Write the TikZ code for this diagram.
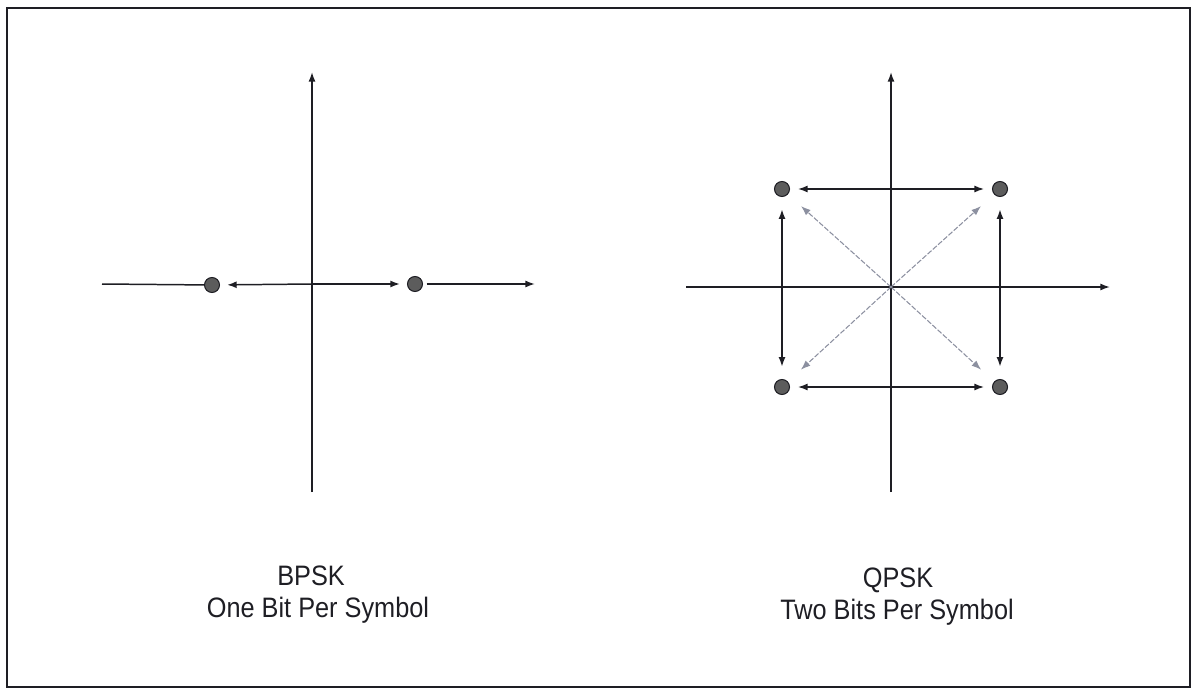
\documentclass[tikz,border=0pt]{standalone}
\usepackage{fontspec}
\usepackage{xcolor}
\usepackage{tikz}
\usetikzlibrary{arrows.meta}
\newfontfamily\capfont[FakeStretch=0.9]{Liberation Sans}
\definecolor{PSKInk}{HTML}{1E1E24}
\definecolor{PSKDot}{HTML}{5C5C5C}
\definecolor{PSKDiag}{HTML}{8C90A0}
\tikzset{
  axis/.style={PSKInk,line width=0.85pt},
  diag/.style={PSKDiag,line width=0.6pt,dash pattern=on 3pt off 1pt},
  sym/.style={circle,draw=PSKInk,fill=PSKDot,line width=0.6pt,minimum size=0.3cm,inner sep=0pt},
  onearrow/.style={-{Latex[length=5.5pt,width=4pt]}},
  twoarrow/.style={{Latex[length=5.5pt,width=4pt]}-{Latex[length=5.5pt,width=4pt]}},
  psklabel/.style={PSKInk,anchor=base,inner sep=0pt,font=\fontsize{16pt}{19pt}\capfont}
}

\begin{document}
\begin{tikzpicture}[x=0.02cm,y=-0.02cm]
\path[use as bounding box] (0,0) rectangle (1192,689);
\draw[PSKInk,line width=1.2pt] (7,8) rectangle (1190,687);
\coordinate (bo) at (312,284);
\coordinate (bw) at (102,284);
\coordinate (be) at (535,284);
\coordinate (bs) at (312,492);
\coordinate (bn) at (312,72);
\node[sym] (b0) at (212,285) {};
\node[sym] (b1) at (415,284) {};
\draw[axis] (bw) -- (b0);
\draw[axis,onearrow,shorten <=2pt] (b1) -- (be);
\draw[axis,onearrow] (bs) -- (bn);
\draw[axis,onearrow,shorten >=4pt] (bo) -- (b0);
\draw[axis,onearrow,shorten >=4pt] (bo) -- (b1);
\node[psklabel] (bname) at (311,585) {BPSK};
\node[psklabel] (bnote) at (318,617) {One Bit Per Symbol};
\coordinate (qo) at (891,287);
\coordinate (qw) at (686,287);
\coordinate (qe) at (1110,287);
\coordinate (qs) at (891,492);
\coordinate (qn) at (891,72);
\node[sym] (qnw) at (782,189) {};
\node[sym] (qne) at (1000,189) {};
\node[sym] (qsw) at (782,387) {};
\node[sym] (qse) at (1000,387) {};
\draw[axis,onearrow] (qw) -- (qe);
\draw[axis,onearrow] (qs) -- (qn);
\draw[diag,onearrow,shorten >=10pt] (qo) -- (qnw);
\draw[diag,onearrow,shorten >=10pt] (qo) -- (qne);
\draw[diag,onearrow,shorten >=10pt] (qo) -- (qsw);
\draw[diag,onearrow,shorten >=10pt] (qo) -- (qse);
\draw[axis,twoarrow,shorten <=4.5pt,shorten >=4.5pt] (qnw) -- (qne);
\draw[axis,twoarrow,shorten <=4.5pt,shorten >=4.5pt] (qsw) -- (qse);
\draw[axis,twoarrow,shorten <=7pt,shorten >=7pt] (qnw) -- (qsw);
\draw[axis,twoarrow,shorten <=7pt,shorten >=7pt] (qne) -- (qse);
\node[psklabel] (qname) at (898,587) {QPSK};
\node[psklabel] (qnote) at (897,619) {Two Bits Per Symbol};
\end{tikzpicture}
\end{document}
